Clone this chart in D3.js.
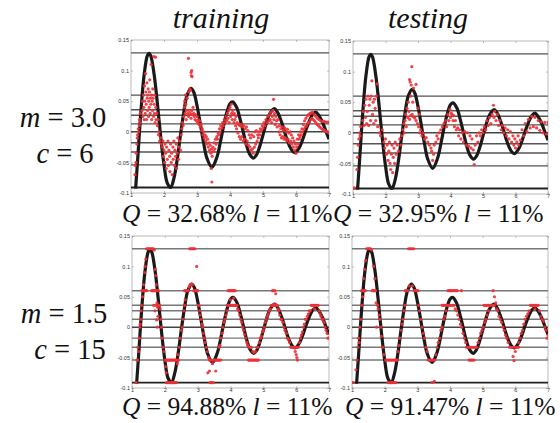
<!DOCTYPE html>
<html>
<head>
<meta charset="utf-8">
<script src="https://cdn.jsdelivr.net/npm/d3@7"></script>
<style>
  html, body { margin: 0; padding: 0; background: #fff; }
  svg { display: block; }
</style>
</head>
<body>
<svg id="chart" width="560" height="423"></svg>
<script>
// Reference signal (black curve): [x, y]
const signal = [
  [1.14,-0.093],[1.2,-0.047],[1.3,0.033],[1.4,0.094],[1.5,0.125],[1.55,0.128],[1.6,0.124],[1.7,0.094],
  [1.8,0.046],[1.9,-0.008],[2.0,-0.054],[2.1,-0.084],[2.2,-0.091],[2.3,-0.076],[2.4,-0.045],[2.5,-0.005],
  [2.6,0.032],[2.7,0.060],[2.82,0.071],[2.9,0.065],[3.0,0.043],[3.1,0.013],[3.2,-0.018],[3.3,-0.043],
  [3.45,-0.058],[3.6,-0.042],[3.7,-0.019],[3.8,0.008],[3.9,0.031],[4.0,0.046],[4.08,0.049],[4.2,0.040],
  [4.3,0.022],[4.4,0.000],[4.5,-0.022],[4.6,-0.037],[4.71,-0.043],[4.8,-0.038],[4.9,-0.024],[5.0,-0.005],
  [5.1,0.014],[5.2,0.029],[5.34,0.038],[5.45,0.031],[5.5,0.025],[5.6,0.010],[5.7,-0.008],[5.8,-0.023],
  [5.9,-0.032],[5.97,-0.034],[6.1,-0.026],[6.2,-0.013],[6.3,0.003],[6.4,0.017],[6.5,0.028],[6.6,0.032],
  [6.7,0.026],[6.8,0.016],[6.9,0.002],[7.0,-0.012]
];

// Quantisation levels (horizontal lines)
const levels = [0.129, 0.06, 0.036, 0.027, 0.013, 0, -0.018, -0.033, -0.054, -0.091];

// Axis ticks
const xTicks = [1, 2, 3, 4, 5, 6, 7];
const yTicks = [-0.1, -0.05, 0, 0.05, 0.1, 0.15];

// Predictions, m = 3.0, c = 6, training set
const predTrainM3 = [
  [1.12,-0.07],[1.13,-0.055],[1.15,-0.05],[1.16,-0.035],[1.18,-0.02],[1.19,-0.01],[1.2,-0.005],[1.22,0.005],
  [1.23,0.0],[1.25,0.01],[1.26,0.02],[1.27,0.015],[1.28,0.03],
  [1.33,0.035],[1.35,0.05],[1.36,0.025],[1.38,0.06],[1.39,0.04],[1.4,0.02],[1.41,0.075],[1.42,0.05],[1.43,0.03],
  [1.44,0.095],[1.45,0.065],[1.46,0.045],[1.47,0.02],[1.48,0.08],[1.49,0.055],[1.5,0.035],[1.51,0.06],[1.52,0.07],
  [1.53,0.025],[1.54,0.05],[1.55,0.04],[1.56,0.065],[1.57,0.085],[1.58,0.03],[1.59,0.055],[1.6,0.045],[1.61,0.11],
  [1.62,0.06],[1.63,0.02],[1.64,0.05],[1.65,0.035],[1.66,0.07],[1.67,0.055],[1.68,0.025],[1.69,0.123],[1.7,0.045],
  [1.71,0.03],[1.72,0.06],[1.73,0.015],[1.74,0.122],[1.75,0.04],[1.76,0.02],
  [1.78,0.03],[1.8,0.01],[1.82,0.02],[1.83,-0.005],[1.85,0.0],[1.87,-0.015],[1.9,-0.01],[1.92,-0.02],
  [1.95,-0.025],[1.97,-0.015],[1.98,-0.04],[2.0,-0.03],[2.02,-0.05],[2.03,-0.02],[2.05,-0.035],[2.07,-0.06],
  [2.08,-0.025],[2.1,-0.045],[2.12,-0.015],[2.13,-0.055],[2.15,-0.03],[2.17,-0.04],[2.18,-0.065],[2.2,-0.02],
  [2.22,-0.05],[2.23,-0.035],[2.25,-0.07],[2.27,-0.025],[2.28,-0.045],[2.3,-0.015],[2.32,-0.055],[2.33,-0.03],
  [2.35,-0.04],[2.37,-0.02],[2.38,-0.06],[2.4,-0.035],[2.42,-0.01],[2.44,-0.045],[2.45,-0.025],[2.47,-0.015],[2.5,-0.03],
  [2.52,-0.005],[2.54,0.005],[2.56,0.015],[2.58,0.01],[2.6,0.025],[2.62,0.04],[2.63,0.05],[2.64,0.03],[2.65,0.06],
  [2.66,0.045],[2.67,0.02],[2.68,0.035],[2.7,0.055],
  [2.74,0.12],[2.82,0.097],[2.84,0.1],[2.85,0.09],[2.83,0.092],[2.75,0.065],[2.78,0.07],[2.8,0.068],
  [2.72,0.03],[2.74,0.025],[2.76,0.035],[2.78,0.028],[2.8,0.03],[2.82,0.022],[2.84,0.035],[2.86,0.028],[2.88,0.04],
  [2.9,0.03],[2.92,0.025],
  [2.94,0.02],[2.96,0.028],[2.98,0.018],[3.0,0.025],[3.02,0.015],[3.04,0.02],[3.06,0.012],[3.08,0.018],[3.1,0.008],
  [3.12,0.012],[3.14,0.002],[3.16,0.005],[3.18,-0.005],[3.2,0.0],[3.22,-0.01],
  [3.24,-0.005],[3.26,-0.015],[3.28,-0.008],[3.3,-0.02],[3.32,-0.012],[3.34,-0.025],[3.36,-0.018],[3.38,-0.03],
  [3.4,-0.022],[3.42,-0.035],[3.43,-0.06],[3.44,-0.028],[3.45,-0.082],[3.46,-0.04],[3.48,-0.025],[3.5,-0.032],
  [3.52,-0.018],[3.54,-0.028],[3.56,-0.012],[3.58,-0.02],[3.6,-0.008],
  [3.62,-0.012],[3.64,-0.002],[3.66,-0.005],[3.68,0.005],[3.7,0.0],[3.72,0.01],[3.75,0.006],[3.78,0.015],[3.8,0.01],
  [3.83,0.02],[3.86,0.015],[3.88,0.025],
  [3.9,0.018],[3.92,0.03],[3.94,0.022],[3.96,0.035],[3.98,0.015],[4.0,0.04],[4.02,0.025],[4.04,0.045],[4.05,0.03],
  [4.07,0.02],[4.08,0.035],[4.1,0.028],[4.12,0.015],[4.13,0.03],[4.15,0.02],[4.17,0.01],[4.18,0.025],
  [4.22,0.015],[4.26,0.012],[4.3,0.01],[4.34,0.012],[4.38,0.008],[4.42,0.01],[4.46,0.005],[4.5,0.008],[4.54,0.002],
  [4.2,0.005],[4.24,-0.002],[4.28,-0.008],[4.32,-0.012],[4.36,-0.008],[4.4,-0.015],[4.44,-0.012],[4.48,-0.02],
  [4.52,-0.015],[4.56,-0.022],
  [4.58,-0.005],[4.6,-0.025],[4.62,-0.01],[4.64,-0.03],[4.66,-0.005],[4.68,-0.028],[4.7,-0.035],[4.72,-0.008],
  [4.74,-0.025],[4.76,0.0],[4.78,-0.02],[4.8,0.002],[4.82,-0.015],[4.84,-0.005],[4.86,-0.01],
  [4.88,0.0],[4.9,-0.005],[4.92,0.005],[4.95,0.002],[4.98,0.01],[5.0,0.006],[5.03,0.015],[5.06,0.01],[5.09,0.02],
  [5.12,0.015],[5.15,0.025],[5.18,0.018],
  [5.2,0.028],[5.22,0.02],[5.24,0.032],[5.26,0.015],[5.28,0.025],[5.3,0.035],[5.32,0.053],[5.33,0.02],[5.35,0.03],
  [5.37,0.012],[5.39,0.025],[5.41,0.018],[5.43,0.008],[5.45,0.02],
  [5.5,0.01],[5.54,0.005],[5.58,0.008],[5.62,0.002],[5.66,0.006],[5.7,0.0],[5.74,0.004],[5.78,-0.002],[5.82,0.0],
  [5.48,0.0],[5.52,-0.005],[5.56,-0.01],[5.6,-0.008],[5.64,-0.012],[5.68,-0.01],[5.72,-0.015],[5.76,-0.012],
  [5.8,-0.018],[5.84,-0.015],
  [5.86,-0.005],[5.88,-0.02],[5.9,-0.01],[5.92,-0.025],[5.94,-0.015],[5.96,-0.03],[5.98,-0.02],[6.0,-0.035],
  [6.02,-0.025],[6.04,-0.012],[6.06,-0.02],[6.08,-0.005],[6.1,-0.012],
  [6.14,0.0],[6.18,0.005],[6.22,0.012],[6.26,0.018],[6.3,0.022],[6.34,0.026],[6.38,0.028],[6.42,0.03],[6.46,0.031],
  [6.5,0.032],[6.12,-0.008],[6.16,-0.005],[6.2,0.0],[6.24,0.004],[6.28,0.008],[6.32,0.01],[6.36,0.014],[6.4,0.016],
  [6.44,0.02],[6.48,0.022],
  [6.55,0.028],[6.6,0.025],[6.65,0.022],[6.7,0.02],[6.75,0.018],[6.8,0.017],[6.85,0.017],[6.9,0.016],[6.95,0.016],
  [7.0,0.016],[6.52,0.02],[6.56,0.018],[6.6,0.015],[6.64,0.012],[6.68,0.01],[6.72,0.008],[6.76,0.006],[6.8,0.004],
  [6.84,0.003],[6.88,0.002],[6.92,0.0],[6.96,0.0],[7.0,-0.002]
];

// Predictions, m = 3.0, c = 6, testing set
const predTestM3 = [
  [1.04,-0.09],[1.12,-0.06],[1.14,-0.04],[1.16,-0.02],[1.18,-0.01],[1.2,0.0],[1.22,-0.005],[1.24,0.01],
  [1.3,0.02],[1.32,0.035],[1.34,0.012],[1.36,0.045],[1.38,0.025],[1.4,0.055],[1.42,0.015],[1.44,0.035],[1.46,0.06],
  [1.48,0.012],[1.5,0.045],[1.52,0.055],[1.54,0.02],[1.56,0.06],[1.58,0.085],[1.6,0.03],[1.62,0.05],[1.64,0.015],
  [1.66,0.055],[1.68,0.04],[1.7,0.02],[1.72,0.06],[1.74,0.08],[1.76,0.01],
  [1.82,0.0],[1.85,-0.005],[1.9,0.005],
  [1.95,-0.015],[1.98,-0.025],[2.0,-0.01],[2.03,-0.035],[2.05,-0.02],[2.08,-0.045],[2.1,-0.03],[2.12,-0.015],
  [2.14,-0.05],[2.16,-0.06],[2.18,-0.035],[2.2,-0.02],[2.22,-0.065],[2.24,-0.04],[2.26,-0.025],[2.28,-0.05],
  [2.3,-0.015],[2.33,-0.035],[2.36,-0.02],[2.4,-0.03],[2.44,-0.01],[2.47,-0.02],[2.5,-0.005],
  [2.53,0.005],[2.56,0.015],[2.58,0.0],[2.6,0.02],[2.62,0.03],[2.64,0.01],[2.66,0.04],[2.68,0.025],[2.7,0.05],[2.72,0.035],
  [2.81,0.108],[2.74,0.087],[2.76,0.083],[2.79,0.078],[2.94,0.079],[2.86,0.073],[2.78,0.06],[2.84,0.05],
  [2.74,0.022],[2.78,0.028],[2.82,0.03],[2.86,0.026],[2.9,0.024],[2.94,0.02],[2.98,0.015],
  [3.02,0.01],[3.05,0.0],[3.08,0.005],[3.12,-0.005],[3.15,0.0],[3.2,-0.01],[3.25,-0.008],[3.3,-0.015],[3.35,-0.02],
  [3.4,-0.025],[3.0,0.04],[3.04,0.03],
  [3.42,-0.03],[3.45,-0.045],[3.48,-0.035],[3.5,-0.02],[3.55,-0.015],[3.58,-0.005],[3.62,-0.01],
  [3.65,0.0],[3.7,0.005],[3.75,0.01],[3.8,0.015],[3.85,0.02],[3.88,0.01],
  [3.92,0.03],[3.95,0.02],[3.98,0.038],[4.0,0.025],[4.02,0.032],[4.05,0.03],[4.08,0.02],[4.1,0.028],[4.12,0.01],
  [4.15,0.02],[4.18,0.005],
  [4.22,0.008],[4.25,-0.005],[4.28,0.005],[4.32,-0.01],[4.36,0.0],[4.4,-0.015],[4.44,0.002],[4.48,-0.02],[4.52,0.0],
  [4.56,-0.022],
  [4.6,-0.005],[4.63,-0.025],[4.66,-0.01],[4.7,-0.028],[4.73,-0.052],[4.76,-0.02],[4.8,-0.005],[4.84,-0.015],[4.88,0.0],
  [4.92,-0.005],[4.96,0.005],[5.0,0.0],[5.04,0.01],[5.08,0.005],[5.12,0.02],[5.16,0.012],[5.2,0.025],
  [5.24,0.015],[5.28,0.03],[5.32,0.045],[5.34,0.025],[5.36,0.035],[5.4,0.02],[5.44,0.03],[5.48,0.012],[5.52,0.02],
  [5.56,0.005],[5.6,0.012],[5.64,0.0],[5.68,0.008],[5.72,-0.005],[5.76,0.005],[5.8,-0.01],[5.84,0.002],[5.88,-0.015],
  [5.92,-0.005],[5.95,-0.02],[5.98,-0.01],[6.0,-0.025],[6.04,-0.015],[6.08,-0.005],[6.1,-0.02],
  [6.2,0.005],[6.3,0.015],[6.4,0.022],[6.5,0.027],[6.6,0.025],[6.7,0.02],[6.8,0.018],[6.9,0.017],[7.0,0.017],
  [6.15,-0.012],[6.25,-0.005],[6.35,0.002],[6.45,0.008],[6.55,0.01],[6.65,0.008],[6.75,0.004],[6.85,0.0],[6.95,-0.002]
];

// Predictions, m = 1.5, c = 15, training set
const predTrainM15 = [
  [1.13,-0.091],[1.15,-0.054],[1.17,-0.054],[1.18,-0.033],[1.2,-0.04],[1.22,-0.018],[1.24,0.0],[1.25,0.005],
  [1.27,0.013],[1.28,0.027],[1.3,0.036],[1.32,0.05],
  [1.3,0.06],[1.33,0.06],[1.36,0.06],[1.39,0.06],[1.42,0.06],[1.45,0.06],[1.6,0.06],[1.63,0.06],[1.66,0.06],
  [1.69,0.06],[1.72,0.06],[1.75,0.06],[1.78,0.06],[1.81,0.06],
  [1.35,0.07],[1.38,0.09],[1.4,0.1],[1.42,0.112],
  [1.44,0.129],[1.47,0.129],[1.5,0.129],[1.53,0.129],[1.56,0.129],[1.59,0.129],[1.62,0.129],[1.65,0.129],[1.68,0.127],
  [1.7,0.095],[1.72,0.085],[1.74,0.07],[1.76,0.04],[1.78,0.033],[1.8,0.036],[1.82,0.036],[1.84,0.036],[1.86,0.03],
  [1.75,0.012],[1.77,0.0],[1.79,0.018],[1.66,0.036],[1.7,0.027],[1.72,0.036],
  [1.88,0.013],[1.9,0.0],[1.92,-0.018],[1.95,-0.033],[1.97,-0.04],
  [2.0,-0.054],[2.03,-0.054],[2.06,-0.054],[2.09,-0.054],[2.12,-0.054],[2.15,-0.054],[2.18,-0.054],[2.21,-0.054],
  [2.24,-0.054],[2.27,-0.054],[2.3,-0.054],[2.33,-0.054],[2.36,-0.054],[2.39,-0.054],[2.42,-0.054],
  [2.05,-0.091],[2.08,-0.091],[2.11,-0.091],[2.14,-0.091],[2.17,-0.091],[2.2,-0.091],[2.23,-0.091],[2.26,-0.091],
  [2.29,-0.091],[2.32,-0.091],[2.35,-0.091],
  [2.02,-0.065],[2.04,-0.075],[2.38,-0.06],[2.4,-0.045],[2.44,-0.033],[2.47,-0.018],[2.5,-0.005],[2.53,0.0],
  [2.55,0.013],[2.58,0.027],[2.6,0.036],[2.62,0.045],
  [2.6,0.06],[2.63,0.06],[2.66,0.06],[2.69,0.06],[2.72,0.06],[2.88,0.06],[2.91,0.06],[2.94,0.06],[2.97,0.06],[3.0,0.06],
  [2.76,0.129],[2.79,0.129],[2.82,0.129],[2.85,0.129],[2.88,0.129],[2.91,0.129],[2.97,0.1],
  [2.74,0.066],[2.77,0.07],[2.8,0.071],[2.84,0.07],
  [3.02,0.036],[3.04,0.036],[3.06,0.027],[3.08,0.02],[3.1,0.013],[3.13,0.005],[3.15,0.0],[3.18,-0.01],[3.2,-0.018],
  [3.23,-0.025],[3.26,-0.033],[3.3,-0.04],[3.33,-0.05],
  [3.36,-0.054],[3.39,-0.054],[3.42,-0.054],[3.48,-0.054],[3.51,-0.054],[3.54,-0.054],[3.57,-0.054],[3.6,-0.054],
  [3.63,-0.054],[3.66,-0.054],[3.7,-0.054],
  [3.38,-0.091],[3.41,-0.091],[3.44,-0.091],[3.47,-0.091],[3.31,-0.075],[3.36,-0.072],[3.55,-0.072],[3.45,-0.06],
  [3.65,-0.033],[3.68,-0.03],[3.7,-0.018],[3.74,-0.01],[3.77,0.0],[3.8,0.008],[3.83,0.013],[3.86,0.02],[3.89,0.027],[3.9,0.036],
  [3.93,0.06],[3.96,0.06],[3.99,0.06],[4.02,0.06],[4.05,0.06],[4.08,0.06],[4.11,0.06],[4.14,0.06],
  [3.93,0.036],[3.96,0.036],[3.99,0.036],[4.02,0.036],[4.05,0.036],[4.08,0.036],[4.11,0.036],[4.14,0.036],
  [4.17,0.036],[4.2,0.036],[4.0,0.045],[4.1,0.048],
  [4.22,0.03],[4.25,0.027],[4.28,0.02],[4.31,0.013],[4.34,0.008],[4.37,0.0],[4.4,-0.005],[4.43,-0.012],[4.46,-0.018],
  [4.5,-0.025],[4.53,-0.03],
  [4.55,-0.054],[4.58,-0.054],[4.61,-0.054],[4.64,-0.054],[4.67,-0.054],[4.7,-0.054],[4.73,-0.054],[4.76,-0.054],
  [4.79,-0.054],[4.82,-0.054],[4.85,-0.054],
  [4.56,-0.033],[4.6,-0.033],[4.64,-0.033],[4.68,-0.04],[4.72,-0.042],[4.76,-0.04],[4.8,-0.033],[4.84,-0.033],
  [4.88,-0.025],[4.91,-0.018],[4.94,-0.015],[4.97,-0.008],[5.0,-0.005],[5.03,0.0],[5.06,0.008],[5.09,0.013],
  [5.12,0.018],[5.15,0.022],[5.18,0.027],[5.21,0.03],
  [5.24,0.036],[5.27,0.036],[5.3,0.036],[5.33,0.036],[5.36,0.036],[5.39,0.036],[5.42,0.036],
  [5.28,0.06],[5.31,0.06],[5.35,0.06],[5.38,0.055],[5.35,0.038],
  [5.45,0.03],[5.48,0.027],[5.5,0.02],[5.53,0.013],[5.56,0.013],[5.6,0.008],[5.63,0.0],[5.66,-0.005],[5.7,-0.01],
  [5.73,-0.018],[5.77,-0.02],[5.8,-0.025],
  [5.83,-0.033],[5.86,-0.033],[5.89,-0.033],[5.92,-0.033],[5.95,-0.033],[5.98,-0.033],[6.01,-0.033],[6.04,-0.033],
  [6.07,-0.033],[6.0,-0.045],[6.02,-0.05],[6.04,-0.054],[5.97,-0.04],
  [6.1,-0.025],[6.13,-0.018],[6.16,-0.013],[6.19,-0.008],[6.22,0.0],[6.25,0.005],[6.28,0.013],[6.31,0.013],
  [6.34,0.018],[6.37,0.022],[6.4,0.027],[6.43,0.027],
  [6.46,0.036],[6.49,0.036],[6.52,0.036],[6.55,0.036],[6.58,0.036],[6.61,0.036],[6.64,0.036],[6.67,0.036],
  [6.55,0.03],[6.7,0.027],
  [6.73,0.022],[6.76,0.018],[6.79,0.013],[6.82,0.013],[6.85,0.008],[6.88,0.0],[6.91,-0.005],[6.94,-0.01],
  [6.97,-0.018],[7.0,-0.018]
];

// Predictions, m = 1.5, c = 15, testing set
const predTestM15 = [
  [1.03,-0.091],[1.12,-0.07],[1.15,-0.054],[1.18,-0.033],[1.2,-0.018],[1.22,-0.025],[1.24,0.0],[1.27,0.013],
  [1.3,0.036],[1.32,0.05],
  [1.29,0.06],[1.32,0.06],[1.35,0.06],[1.38,0.06],[1.41,0.06],[1.62,0.06],[1.65,0.06],[1.68,0.06],[1.72,0.06],
  [1.36,0.08],[1.39,0.095],[1.42,0.11],
  [1.45,0.129],[1.48,0.129],[1.51,0.129],[1.54,0.129],[1.57,0.129],[1.6,0.127],
  [1.66,0.1],[1.7,0.08],[1.74,0.04],[1.78,0.036],[1.8,0.03],[1.83,0.02],[1.86,0.013],[1.75,0.0],[1.88,0.0],
  [1.9,-0.015],[1.94,-0.033],[1.97,-0.045],
  [2.03,-0.054],[2.07,-0.054],[2.11,-0.054],[2.15,-0.054],[2.19,-0.054],[2.23,-0.054],[2.27,-0.054],[2.31,-0.054],
  [2.35,-0.054],[2.39,-0.054],
  [2.1,-0.091],[2.14,-0.091],[2.18,-0.091],[2.22,-0.091],[2.26,-0.091],[2.3,-0.091],[2.34,-0.091],
  [2.4,-0.04],[2.43,-0.03],[2.46,-0.018],[2.5,-0.005],[2.53,0.005],[2.56,0.013],[2.59,0.027],[2.62,0.036],
  [2.63,0.06],[2.67,0.06],[2.71,0.06],[2.9,0.06],[2.94,0.06],[2.98,0.06],[3.02,0.06],
  [2.73,0.129],[2.77,0.129],[2.81,0.129],[2.85,0.129],[2.89,0.129],[2.75,0.068],[2.85,0.068],
  [3.04,0.036],[3.07,0.027],[3.1,0.013],[3.14,0.0],[3.18,-0.01],[3.22,-0.018],[3.26,-0.033],[3.3,-0.04],
  [3.33,-0.054],[3.37,-0.054],[3.41,-0.054],[3.45,-0.054],[3.49,-0.054],[3.53,-0.054],
  [3.45,-0.091],[3.52,-0.089],[3.57,-0.045],[3.6,-0.033],
  [3.64,-0.025],[3.68,-0.018],[3.72,-0.005],[3.76,0.0],[3.8,0.013],[3.84,0.018],[3.88,0.027],
  [3.76,0.036],[3.8,0.036],[3.84,0.036],[3.88,0.036],[3.92,0.036],[3.96,0.036],[4.0,0.036],[4.04,0.036],
  [4.08,0.036],[4.12,0.036],
  [3.94,0.06],[3.98,0.06],[4.02,0.06],[4.06,0.06],[4.1,0.06],[4.14,0.06],[4.18,0.06],[4.22,0.06],[4.35,0.06],
  [4.16,0.03],[4.2,0.027],[4.24,0.02],[4.28,0.013],[4.32,0.005],[4.36,0.0],[4.4,-0.01],[4.44,-0.018],[4.48,-0.025],
  [4.5,-0.033],[4.54,-0.033],[4.58,-0.033],[4.62,-0.033],[4.66,-0.033],[4.7,-0.033],[4.74,-0.033],[4.78,-0.033],
  [4.82,-0.033],
  [4.58,-0.054],[4.62,-0.054],[4.66,-0.054],[4.7,-0.054],[4.74,-0.054],
  [4.86,-0.025],[4.9,-0.018],[4.94,-0.01],[4.98,-0.005],[5.02,0.0],[5.06,0.008],[5.1,0.013],[5.14,0.02],[5.18,0.027],
  [5.04,0.036],[5.08,0.036],[5.12,0.036],[5.16,0.036],[5.2,0.036],[5.24,0.036],[5.28,0.036],[5.32,0.036],[5.36,0.036],
  [5.32,0.06],[5.36,0.05],[5.4,0.04],
  [5.42,0.03],[5.46,0.027],[5.5,0.018],[5.54,0.013],[5.58,0.008],[5.62,0.0],[5.66,-0.005],[5.7,-0.013],
  [5.74,-0.018],[5.78,-0.025],
  [5.82,-0.033],[5.86,-0.033],[5.9,-0.033],[5.94,-0.033],[5.98,-0.033],[6.02,-0.033],[6.06,-0.033],[6.1,-0.033],
  [5.93,-0.048],[5.96,-0.055],[6.0,-0.04],
  [6.1,-0.025],[6.14,-0.018],[6.18,-0.01],[6.22,-0.005],[6.26,0.005],[6.3,0.013],[6.34,0.018],[6.38,0.022],[6.42,0.027],
  [6.46,0.036],[6.5,0.036],[6.54,0.036],[6.58,0.036],[6.62,0.036],[6.66,0.036],[6.7,0.036],[6.6,0.03],[6.74,0.027],
  [6.78,0.018],[6.82,0.013],[6.86,0.01],[6.9,0.0],[6.94,-0.005],[6.97,-0.018],[7.0,-0.013]
];

// Label strings
const columnTitles = ["training", "testing"];
const rowLabels = [["m", " = 3.0", "c", " = 6"], ["m", " = 1.5", "c", " = 15"]];
const qScores = [["32.68%", "32.95%"], ["94.88%", "91.47%"]];
const lScores = [["11%", "11%"], ["11%", "11%"]];

const SERIF = "'Liberation Serif'";
const SANS = "'Liberation Sans'";

const svg = d3.select("#chart");

// Panel boxes, one per (row, column)
const panels = [
  { left: 131, right: 329, top: 40, bottom: 193, pts: predTrainM3, lineCol: "#555" },
  { left: 353, right: 548, top: 41, bottom: 194, pts: predTestM3, lineCol: "#555" },
  { left: 132, right: 329, top: 236, bottom: 388, pts: predTrainM15, lineCol: "#777" },
  { left: 352, right: 548, top: 236, bottom: 388, pts: predTestM15, lineCol: "#777" }
];

const yFmt = v => (v === 0 ? "0" : String(+v.toFixed(2)));

panels.forEach((p, i) => {
  const x = d3.scaleLinear().domain([1, 7]).range([p.left, p.right]);
  const y = d3.scaleLinear().domain([-0.1, 0.15]).range([p.bottom, p.top]);
  const g = svg.append("g");

  g.append("clipPath").attr("id", "clip" + i)
    .append("rect").attr("x", p.left).attr("y", p.top)
    .attr("width", p.right - p.left).attr("height", p.bottom - p.top);

  // frame
  g.append("rect").attr("x", p.left).attr("y", p.top)
    .attr("width", p.right - p.left).attr("height", p.bottom - p.top)
    .attr("fill", "none").attr("stroke", "#aaa").attr("stroke-width", 0.8);

  // axes (ticks point inward)
  const ax = g.append("g").attr("transform", `translate(0,${p.bottom})`)
    .call(d3.axisBottom(x).tickValues(xTicks).tickSize(-2).tickPadding(1).tickFormat(d3.format("d")));
  const axTop = g.append("g").attr("transform", `translate(0,${p.top})`)
    .call(d3.axisTop(x).tickValues(xTicks).tickSize(-2).tickFormat(""));
  const ay = g.append("g").attr("transform", `translate(${p.left},0)`)
    .call(d3.axisLeft(y).tickValues(yTicks).tickSize(-2).tickPadding(2).tickFormat(yFmt));
  const ayR = g.append("g").attr("transform", `translate(${p.right},0)`)
    .call(d3.axisRight(y).tickValues(yTicks).tickSize(-2).tickFormat(""));
  [ax, axTop, ay, ayR].forEach(a => {
    a.attr("font-family", null).attr("font-size", null);
    a.select(".domain").remove();
    a.selectAll(".tick line").attr("stroke", "#999").attr("stroke-width", 0.6);
    a.selectAll(".tick text").style("font-family", SANS).style("font-size", "5.5px").attr("fill", "#333");
  });
  ax.selectAll(".tick text").attr("dy", "0.6em");

  // quantisation levels
  g.append("g").attr("clip-path", `url(#clip${i})`)
    .selectAll("line").data(levels).join("line")
    .attr("x1", p.left).attr("x2", p.right)
    .attr("y1", d => y(d)).attr("y2", d => y(d))
    .attr("stroke", d => (d === -0.091 ? "#222" : d === 0 ? "#444" : p.lineCol))
    .attr("stroke-width", d => (d === -0.091 ? 1.8 : 1.4));

  // reference signal
  g.append("path").datum(signal)
    .attr("clip-path", `url(#clip${i})`)
    .attr("d", d3.line().x(d => x(d[0])).y(d => y(d[1])).curve(d3.curveCatmullRom))
    .attr("fill", "none").attr("stroke", "#1a1a1a").attr("stroke-width", 3.2);

  // predictions
  g.append("g").attr("clip-path", `url(#clip${i})`)
    .selectAll("circle").data(p.pts).join("circle")
    .attr("cx", d => x(d[0])).attr("cy", d => y(d[1])).attr("r", 1.6)
    .attr("fill", "#ee3035").attr("fill-opacity", 0.9);
});

function serifText(xp, yp, size) {
  return svg.append("text")
    .attr("x", xp).attr("y", yp)
    .style("font-family", SERIF).style("font-size", size + "px").attr("fill", "#111");
}

// Column titles
const titleX = [221, 428];
columnTitles.forEach((t, i) => {
  serifText(titleX[i], 28, 30)
    .attr("text-anchor", "middle").style("font-style", "italic")
    .text(t);
});

// Row labels
const rowLabelPos = [[[63, 127], [65, 163]], [[64, 323], [70, 359]]];
rowLabels.forEach((lab, r) => {
  [0, 1].forEach(k => {
    const t = serifText(rowLabelPos[r][k][0], rowLabelPos[r][k][1], 28.5)
      .attr("text-anchor", "middle");
    t.append("tspan").style("font-style", "italic").text(lab[k * 2]);
    t.append("tspan").text(lab[k * 2 + 1]);
  });
});

// Score captions under each panel
const captionPos = [[[122, 222], [333, 222]], [[122, 415], [345, 415]]];
[0, 1].forEach(r => {
  [0, 1].forEach(c => {
    const t = serifText(captionPos[r][c][0], captionPos[r][c][1], 25.5);
    t.append("tspan").style("font-style", "italic").text("Q");
    t.append("tspan").text(" = " + qScores[r][c] + " ");
    t.append("tspan").style("font-style", "italic").text("l");
    t.append("tspan").text(" = " + lScores[r][c]);
  });
});
</script>
</body>
</html>
